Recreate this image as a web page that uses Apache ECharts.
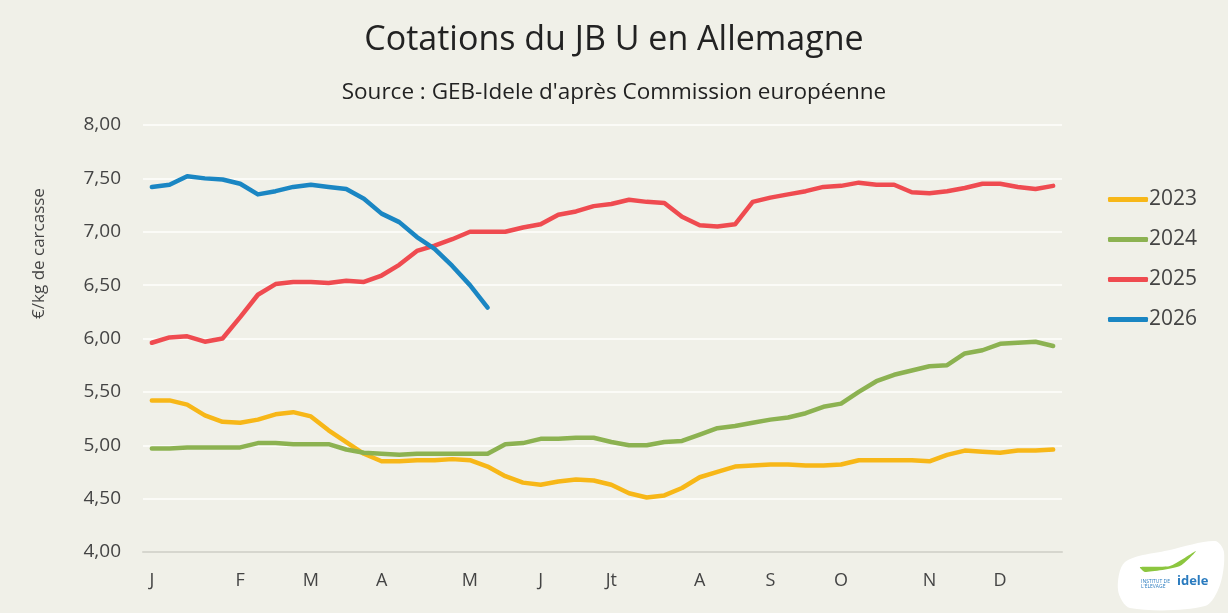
<!DOCTYPE html>
<html>
<head>
<meta charset="utf-8">
<script src="https://cdn.jsdelivr.net/npm/echarts@6/dist/echarts.min.js"></script>
<style>
  html, body { margin: 0; padding: 0; background: #f0f0e8; }
  #chart { width: 1228px; height: 613px; }
</style>
</head>
<body>
<div id="chart"></div>
<script>
// semaines 1..52
var weeks = [];
for (var w = 1; w <= 52; w++) weeks.push(w);

// libellé du mois sur la première semaine de chaque mois
var monthLabels = { 0: 'J', 5: 'F', 9: 'M', 13: 'A', 18: 'M', 22: 'J', 26: 'Jt', 31: 'A', 35: 'S', 39: 'O', 44: 'N', 48: 'D' };

var y2023 = [5.42, 5.42, 5.38, 5.28, 5.22, 5.21, 5.24, 5.29, 5.31, 5.27,
             5.14, 5.03, 4.92, 4.85, 4.85, 4.86, 4.86, 4.87, 4.86, 4.80,
             4.71, 4.65, 4.63, 4.66, 4.68, 4.67, 4.63, 4.55, 4.51, 4.53,
             4.60, 4.70, 4.75, 4.80, 4.81, 4.82, 4.82, 4.81, 4.81, 4.82,
             4.86, 4.86, 4.86, 4.86, 4.85, 4.91, 4.95, 4.94, 4.93, 4.95,
             4.95, 4.96];
var y2024 = [4.97, 4.97, 4.98, 4.98, 4.98, 4.98, 5.02, 5.02, 5.01, 5.01,
             5.01, 4.96, 4.93, 4.92, 4.91, 4.92, 4.92, 4.92, 4.92, 4.92,
             5.01, 5.02, 5.06, 5.06, 5.07, 5.07, 5.03, 5.00, 5.00, 5.03,
             5.04, 5.10, 5.16, 5.18, 5.21, 5.24, 5.26, 5.30, 5.36, 5.39,
             5.50, 5.60, 5.66, 5.70, 5.74, 5.75, 5.86, 5.89, 5.95, 5.96,
             5.97, 5.93];
var y2025 = [5.96, 6.01, 6.02, 5.97, 6.00, 6.20, 6.41, 6.51, 6.53, 6.53,
             6.52, 6.54, 6.53, 6.59, 6.69, 6.82, 6.87, 6.93, 7.00, 7.00,
             7.00, 7.04, 7.07, 7.16, 7.19, 7.24, 7.26, 7.30, 7.28, 7.27,
             7.14, 7.06, 7.05, 7.07, 7.28, 7.32, 7.35, 7.38, 7.42, 7.43,
             7.46, 7.44, 7.44, 7.37, 7.36, 7.38, 7.41, 7.45, 7.45, 7.42,
             7.40, 7.43];
var y2026 = [7.42, 7.44, 7.52, 7.50, 7.49, 7.45, 7.35, 7.38, 7.42, 7.44,
             7.42, 7.40, 7.31, 7.17, 7.09, 6.95, 6.84, 6.68, 6.50, 6.29];

var colors = ['#f7b718', '#8cb251', '#ef4b50', '#1a86c3'];

var myChart = echarts.init(document.getElementById('chart'));

function serie(name, data, color) {
  return {
    name: name,
    type: 'line',
    data: data,
    symbol: 'none',
    smooth: false,
    lineStyle: { width: 4.5, color: color, cap: 'round', join: 'round' },
    itemStyle: { color: color }
  };
}

var option = {
  backgroundColor: '#f0f0e8',
  textStyle: { fontFamily: 'Open Sans' },
  title: [
    {
      text: 'Cotations du JB U en Allemagne',
      left: 'center', top: 18,
      textStyle: { fontSize: 34, fontWeight: 'normal', color: '#222', fontFamily: 'Open Sans' }
    },
    {
      text: "Source : GEB-Idele d'après Commission européenne",
      left: 'center', top: 76,
      textStyle: { fontSize: 22.5, fontWeight: 'normal', color: '#222', fontFamily: 'Open Sans' }
    }
  ],
  legend: {
    orient: 'vertical',
    left: 1103, top: 184,
    itemWidth: 40, itemHeight: 5, itemGap: 19,
    icon: 'roundRect',
    textStyle: { fontSize: 21, color: '#444', padding: [0, 0, 0, -4] },
    data: ['2023', '2024', '2025', '2026']
  },
  grid: { left: 143, right: 166, top: 125, bottom: 61 },
  xAxis: {
    type: 'category',
    data: weeks,
    boundaryGap: true,
    axisLine: { show: true, lineStyle: { color: '#d6d6ce', width: 2 } },
    axisTick: { show: false },
    axisLabel: {
      interval: 0,
      margin: 20,
      fontSize: 18,
      color: '#444',
      formatter: function (v, i) { return monthLabels[i] || ''; }
    }
  },
  yAxis: {
    type: 'value',
    min: 4, max: 8, interval: 0.5,
    name: '€/kg de carcasse',
    nameLocation: 'middle',
    nameGap: 95,
    nameRotate: 90,
    nameTextStyle: { fontSize: 17, color: '#444', padding: [0, 0, 0, 170] },
    axisLine: { show: false },
    axisTick: { show: false },
    axisLabel: {
      margin: 22,
      fontSize: 19,
      color: '#444',
      formatter: function (v) { return v.toFixed(2).replace('.', ','); }
    },
    splitLine: { lineStyle: { color: '#fbfbf7', width: 2 } }
  },
  graphic: [
    {
      type: 'polygon',
      shape: { points: [[1125, 562], [1170, 550], [1215, 541], [1224, 552], [1220, 585], [1205, 606], [1130, 608], [1118, 590]], smooth: 0.3 },
      style: { fill: '#ffffff' }
    },
    {
      type: 'polygon',
      shape: { points: [[1140, 567], [1170, 566], [1196, 551], [1180, 566], [1145, 572]], smooth: 0.2 },
      style: { fill: '#8cc63f' }
    },
    {
      type: 'text', left: 1177, top: 575,
      style: { text: 'idele', fontSize: 13, fontWeight: 'bold', fill: '#2a7bbf', fontFamily: 'Open Sans' }
    },
    {
      type: 'text', left: 1141, top: 579,
      style: { text: "INSTITUT DE\nL'ÉLEVAGE", fontSize: 5, fill: '#2a7bbf', fontFamily: 'Open Sans' }
    }
  ],
  series: [
    serie('2023', y2023, colors[0]),
    serie('2024', y2024, colors[1]),
    serie('2025', y2025, colors[2]),
    serie('2026', y2026, colors[3])
  ]
};

myChart.setOption(option);
</script>
</body>
</html>
